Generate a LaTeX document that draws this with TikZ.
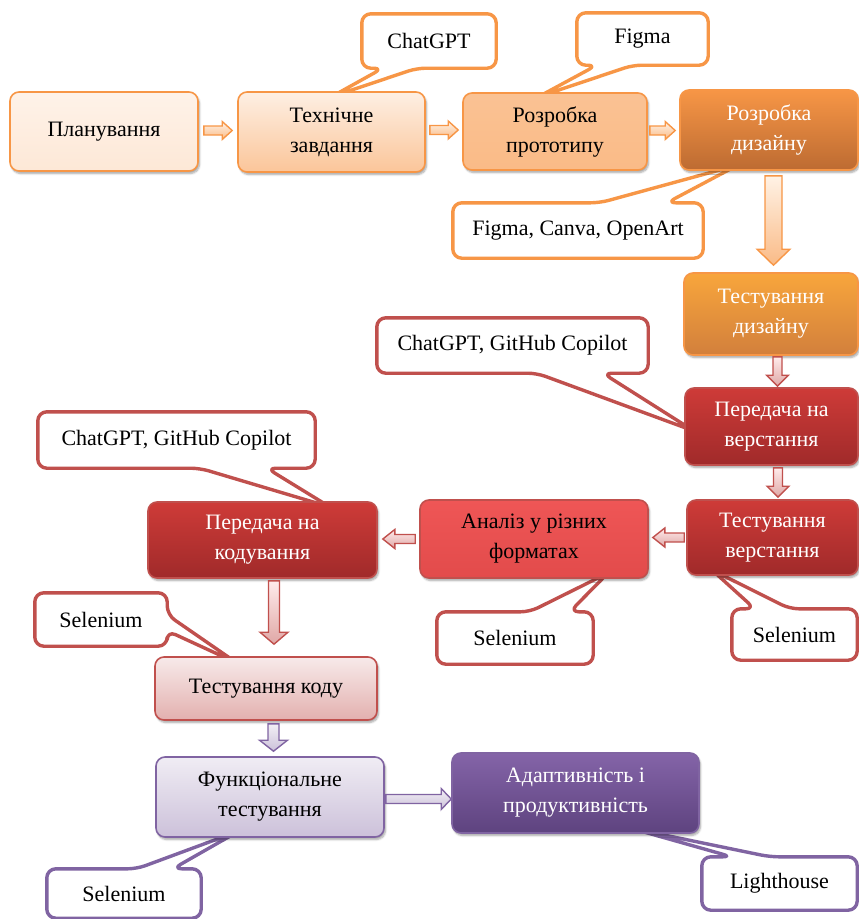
\documentclass[tikz,border=0pt]{standalone}
\usepackage{fontspec}
\setmainfont{Liberation Serif}
\usetikzlibrary{calc,shadows.blur,backgrounds}
\definecolor{orA}{HTML}{F79646}
\definecolor{redA}{HTML}{C0504D}
\definecolor{purA}{HTML}{8064A2}
\definecolor{drTop}{HTML}{CE3B38}
\definecolor{drBot}{HTML}{A02A2A}
\definecolor{anTop}{HTML}{EF5656}
\definecolor{anBot}{HTML}{E24B4B}
\definecolor{puTop}{HTML}{8464A8}
\definecolor{puBot}{HTML}{5E437F}
\newcommand\boxfont{\fontsize{22}{30}\selectfont}
\tikzset{
  box/.style={rounded corners=9pt, line width=1.6pt, align=center, inner sep=2pt,
    font=\boxfont, blur shadow={shadow xshift=1.5pt, shadow yshift=-2.5pt, shadow opacity=35, shadow blur steps=6}},
  ctext/.style={inner sep=0pt, align=center, font=\boxfont},
  callout/.style={fill=white, line width=3.4pt, rounded corners=9pt, line join=round},
  hbar/.style n args={3}{to path={let \p1=(\tikztostart),\p2=(\tikztotarget),\n1={sign(\x2-\x1)} in
    (\x1,{\y1+#1}) -- ({\x2-(\n1)*#3},{\y1+#1}) -- ({\x2-(\n1)*#3},{\y1+#2}) -- (\x2,\y1)
    -- ({\x2-(\n1)*#3},{\y1-#2}) -- ({\x2-(\n1)*#3},{\y1-#1}) -- (\x1,{\y1-#1}) -- cycle}},
  vbar/.style n args={3}{to path={let \p1=(\tikztostart),\p2=(\tikztotarget),\n1={sign(\y2-\y1)} in
    ({\x1-#1},\y1) -- ({\x1-#1},{\y2-(\n1)*#3}) -- ({\x1-#2},{\y2-(\n1)*#3}) -- (\x1,\y2)
    -- ({\x1+#2},{\y2-(\n1)*#3}) -- ({\x1+#1},{\y2-(\n1)*#3}) -- ({\x1+#1},\y1) -- cycle}},
  orarrow/.style={line width=1.4pt, draw=orA, top color=orange!10!white, bottom color=orA!65!white, line join=miter},
  redarrow/.style={line width=1.4pt, draw=redA, top color=red!8!white, bottom color=redA!50!white, line join=miter},
  purarrow/.style={line width=1.4pt, draw=purA, top color=purA!10!white, bottom color=purA!40!white, line join=miter},
}
\begin{document}
\begin{tikzpicture}[x=1pt,y=-1pt]
\useasboundingbox (0,0) rectangle (859,919);

% ---------- boxes ----------
\node[box, draw=orA, top color=orA!12!white, bottom color=orA!22!white, minimum width=188pt, minimum height=79pt] (b1) at (104,131.5) {Планування};
\node[box, draw=orA, top color=orA!15!white, bottom color=orA!55!white, minimum width=187pt, minimum height=80pt] (b2) at (331.5,132) {Технічне\\завдання};
\node[box, draw=orA, top color=orA!58!white, bottom color=orA!65!white, minimum width=184pt, minimum height=77pt] (b3) at (555,131.5) {Розробка\\прототипу};
\node[box, draw=orA, top color=orA, bottom color=orA!75!black!95!red, text=white, minimum width=178pt, minimum height=80pt] (b4) at (769,130) {Розробка\\дизайну};
\node[box, draw=orA, top color=orA!85!yellow, bottom color=orA!85!black, text=white, minimum width=174pt, minimum height=82pt] (b5) at (771,314) {Тестування\\дизайну};
\node[box, draw=redA, top color=drTop, bottom color=drBot, text=white, minimum width=173pt, minimum height=77pt] (b6) at (771.5,426.5) {Передача на\\верстання};
\node[box, draw=redA, top color=drTop, bottom color=drBot, text=white, minimum width=171pt, minimum height=75pt] (b7) at (772.5,537.5) {Тестування\\верстання};
\node[box, draw=redA, top color=anTop, bottom color=anBot, minimum width=228pt, minimum height=78pt] (b8) at (534,539) {Аналіз у різних\\форматах};
\node[box, draw=redA, top color=drTop, bottom color=drBot, text=white, minimum width=229pt, minimum height=76pt] (b9) at (262.5,540) {Передача на\\кодування};
\node[box, draw=redA, top color=redA!12!white, bottom color=redA!45!white, minimum width=222pt, minimum height=63pt] (b10) at (266,688.5) {Тестування коду};
\node[box, draw=purA, top color=purA!12!white, bottom color=purA!40!white, minimum width=228pt, minimum height=80pt] (b11) at (270,797) {Функціональне\\тестування};
\node[box, draw=purA, top color=puTop, bottom color=puBot, text=white, minimum width=247pt, minimum height=80pt] (b12) at (575.5,793) {Адаптивність і\\продуктивність};

% ---------- block arrows ----------
\draw[orarrow] ($(b1.east)+(5,-1)$) to[hbar={4.5pt}{9pt}{10pt}] ($(b2.west)+(-5,-1)$);
\draw[orarrow] ($(b2.east)+(4,-2)$) to[hbar={4.5pt}{9pt}{10pt}] ($(b3.west)+(-4,-2)$);
\draw[orarrow] ($(b3.east)+(2,-1)$) to[hbar={4.5pt}{9pt}{10pt}] ($(b4.west)+(-4,-1)$);
\draw[orarrow] ($(b4.south)+(4.5,5)$) to[vbar={8.5pt}{16.5pt}{16pt}] ($(b5.north)+(4.5,-7)$);
\draw[redarrow] ($(b5.south)+(6.5,1)$) to[vbar={4.5pt}{11pt}{11pt}] ($(b6.north)+(6.5,-1)$);
\draw[redarrow] ($(b6.south)+(6.5,2)$) to[vbar={4.5pt}{11pt}{11pt}] ($(b7.north)+(6.5,-2)$);
\draw[redarrow] ($(b7.west)+(-2,0)$) to[hbar={4.5pt}{9.5pt}{12pt}] ($(b8.east)+(4,0)$);
\draw[redarrow] ($(b8.west)+(-4,0)$) to[hbar={4.5pt}{9.5pt}{12pt}] ($(b9.east)+(5,0)$);
\draw[redarrow] ($(b9.south)+(11.5,2)$) to[vbar={5.5pt}{14pt}{12pt}] ($(b10.north)+(11.5,-12)$);
\draw[purarrow] ($(b10.south)+(7.5,3)$) to[vbar={5.5pt}{14pt}{11pt}] ($(b11.north)+(7.5,-5)$);
\draw[purarrow] ($(b11.east)+(1,2)$) to[hbar={4.5pt}{10.5pt}{10pt}] ($(b12.west)+(0,2)$);

% ---------- callouts ----------
\node[ctext, minimum width=134pt, minimum height=54pt] (c1) at (429,41) {ChatGPT};
\node[ctext, minimum width=131pt, minimum height=52pt] (c2) at (642.5,39) {Figma};
\node[ctext, minimum width=250pt, minimum height=55pt] (c3) at (578,230.5) {Figma, Canva, OpenArt};
\node[ctext, minimum width=271pt, minimum height=55pt] (c4) at (512.5,345.5) {ChatGPT, GitHub Copilot};
\node[ctext, minimum width=277pt, minimum height=56pt] (c5) at (176.5,440) {ChatGPT, GitHub Copilot};
\node[ctext, minimum width=132pt, minimum height=53pt] (c6) at (101,619.5) {Selenium};
\node[ctext, minimum width=156pt, minimum height=52pt] (c7) at (515,638) {Selenium};
\node[ctext, minimum width=125pt, minimum height=51pt] (c8) at (794.5,634.5) {Selenium};
\node[ctext, minimum width=154pt, minimum height=49pt] (c9) at (124,893.5) {Selenium};
\node[ctext, minimum width=155pt, minimum height=53pt] (c10) at (779.5,883.5) {Lighthouse};

\coordinate (t1) at (331,97);
\coordinate (t2) at (538,97);
\coordinate (t3) at (738,165);
\coordinate (t4) at (694,431);
\coordinate (t5) at (330,507);
\coordinate (t6) at (237,663);
\coordinate (t7) at (608,573);
\coordinate (t8) at (712,570);
\coordinate (t9) at (239,831);
\coordinate (t10) at (630,828);

\begin{pgfonlayer}{background}
\draw[callout, draw=orA] (c1.north west) -- (c1.north east) -- (c1.south east) -- ($(c1.south west)+(55,0)$) -- (t1) -- ($(c1.south west)+(21,0)$) -- (c1.south west) -- cycle;
\draw[callout, draw=orA] (c2.north west) -- (c2.north east) -- (c2.south east) -- ($(c2.south west)+(56,0)$) -- (t2) -- ($(c2.south west)+(20,0)$) -- (c2.south west) -- cycle;
\draw[callout, draw=orA] (c3.south west) -- (c3.north west) -- ($(c3.north west)+(147,0)$) -- (t3) -- ($(c3.north west)+(214,0)$) -- (c3.north east) -- (c3.south east) -- cycle;
\draw[callout, draw=redA] (c4.north west) -- (c4.north east) -- (c4.south east) -- ($(c4.south west)+(226,0)$) -- (t4) -- ($(c4.south west)+(160,0)$) -- (c4.south west) -- cycle;
\draw[callout, draw=redA] (c5.north west) -- (c5.north east) -- (c5.south east) -- ($(c5.south west)+(229,0)$) -- (t5) -- ($(c5.south west)+(162,0)$) -- (c5.south west) -- cycle;
\draw[callout, draw=redA] (c6.north west) -- (c6.north east) -- ($(c6.north east)+(0,22)$) -- (t6) -- ($(c6.north east)+(0,38)$) -- (c6.south east) -- (c6.south west) -- cycle;
\draw[callout, draw=redA] (c7.south west) -- (c7.north west) -- ($(c7.north west)+(93,0)$) -- (t7) -- ($(c7.north west)+(133,0)$) -- (c7.north east) -- (c7.south east) -- cycle;
\draw[callout, draw=redA] (c8.south west) -- (c8.north west) -- ($(c8.north west)+(23,0)$) -- (t8) -- ($(c8.north west)+(58,0)$) -- (c8.north east) -- (c8.south east) -- cycle;
\draw[callout, draw=purA] (c9.south west) -- (c9.north west) -- ($(c9.north west)+(90,0)$) -- (t9) -- ($(c9.north west)+(126,0)$) -- (c9.north east) -- (c9.south east) -- cycle;
\draw[callout, draw=purA] (c10.south west) -- (c10.north west) -- ($(c10.north west)+(30,0)$) -- (t10) -- ($(c10.north west)+(68,0)$) -- (c10.north east) -- (c10.south east) -- cycle;
\end{pgfonlayer}
\end{tikzpicture}
\end{document}
